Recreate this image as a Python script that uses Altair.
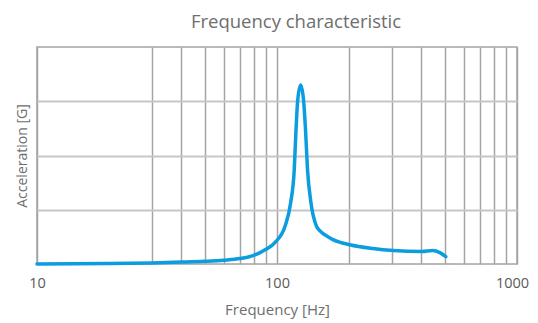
import altair as alt
import pandas as pd

# Frequency response
freq = [10, 20, 30, 40, 50, 60, 70, 80, 85, 90, 98, 108, 114, 118, 120, 122,
        125.5, 129, 131.5, 134, 138.5, 146, 151, 158, 171, 201, 251, 305, 402,
        445, 477, 505]
accel = [0.0, 0.01, 0.02, 0.035, 0.05, 0.07, 0.1, 0.16, 0.21, 0.27, 0.395, 0.695,
         1.13, 1.74, 2.47, 3.02, 3.30, 3.02, 2.47, 1.74, 1.13, 0.70, 0.61,
         0.54, 0.45, 0.355, 0.285, 0.248, 0.23, 0.248, 0.21, 0.135]

grid_x = [10, 30, 40, 50, 60, 70, 80, 90, 100, 200, 300, 400, 500, 600, 700, 800, 900, 1000]
label_x = [10, 100, 1000]
grid_y = [1, 2, 3]

df = pd.DataFrame({"freq": freq, "accel": accel})

label_test = " || ".join(f"datum.value == {v}" for v in label_x)

chart = alt.Chart(df).mark_line(
    color="#0b9de0", strokeWidth=3.5, interpolate="monotone", strokeCap="round"
).encode(
    x=alt.X(
        "freq:Q",
        scale=alt.Scale(type="log", domain=[10, 1000], nice=False),
        axis=alt.Axis(
            values=grid_x, format="d",
            labelExpr=f"({label_test}) ? datum.label : ''",
            labelOverlap=False, labelFlush=False,
            labelOffset={"condition": {"test": "datum.value == 1000", "value": -5}, "value": 0},
            grid=True, gridColor="#a4a4a4", gridWidth=1.5, gridOpacity=1,
            ticks=False, domain=False,
            labelFont="Open Sans", labelFontSize=14.5, labelColor="#5a5a5a",
            labelPadding=12,
            title="Frequency [Hz]", titleFont="Open Sans", titleFontSize=15,
            titleFontWeight="normal", titleColor="#6e6e6e", titlePadding=13,
        ),
    ),
    y=alt.Y(
        "accel:Q",
        scale=alt.Scale(domain=[0, 4], nice=False),
        axis=alt.Axis(
            values=grid_y, labels=False, ticks=False, domain=False,
            grid=True, gridColor="#c6c6c6", gridWidth=2, gridOpacity=1,
            title="Acceleration [G]", titleFont="Open Sans", titleFontSize=14,
            titleFontWeight="normal", titleColor="#6e6e6e", titlePadding=8,
        ),
    ),
).properties(
    width=480,
    height=217,
    autosize=alt.AutoSizeParams(type="none"),
    padding={"left": 29, "top": 39, "right": 13, "bottom": 56},
    title=alt.TitleParams(
        "Frequency characteristic", font="Open Sans", fontSize=18.5,
        fontWeight="normal", color="#6e6e6e", anchor="middle", dx=19,
        baseline="alphabetic", offset=1,
    ),
).configure_view(
    stroke="#a4a4a4", strokeWidth=1.5
)

chart.save("out.html", embed_options={"renderer": "svg", "actions": False})
